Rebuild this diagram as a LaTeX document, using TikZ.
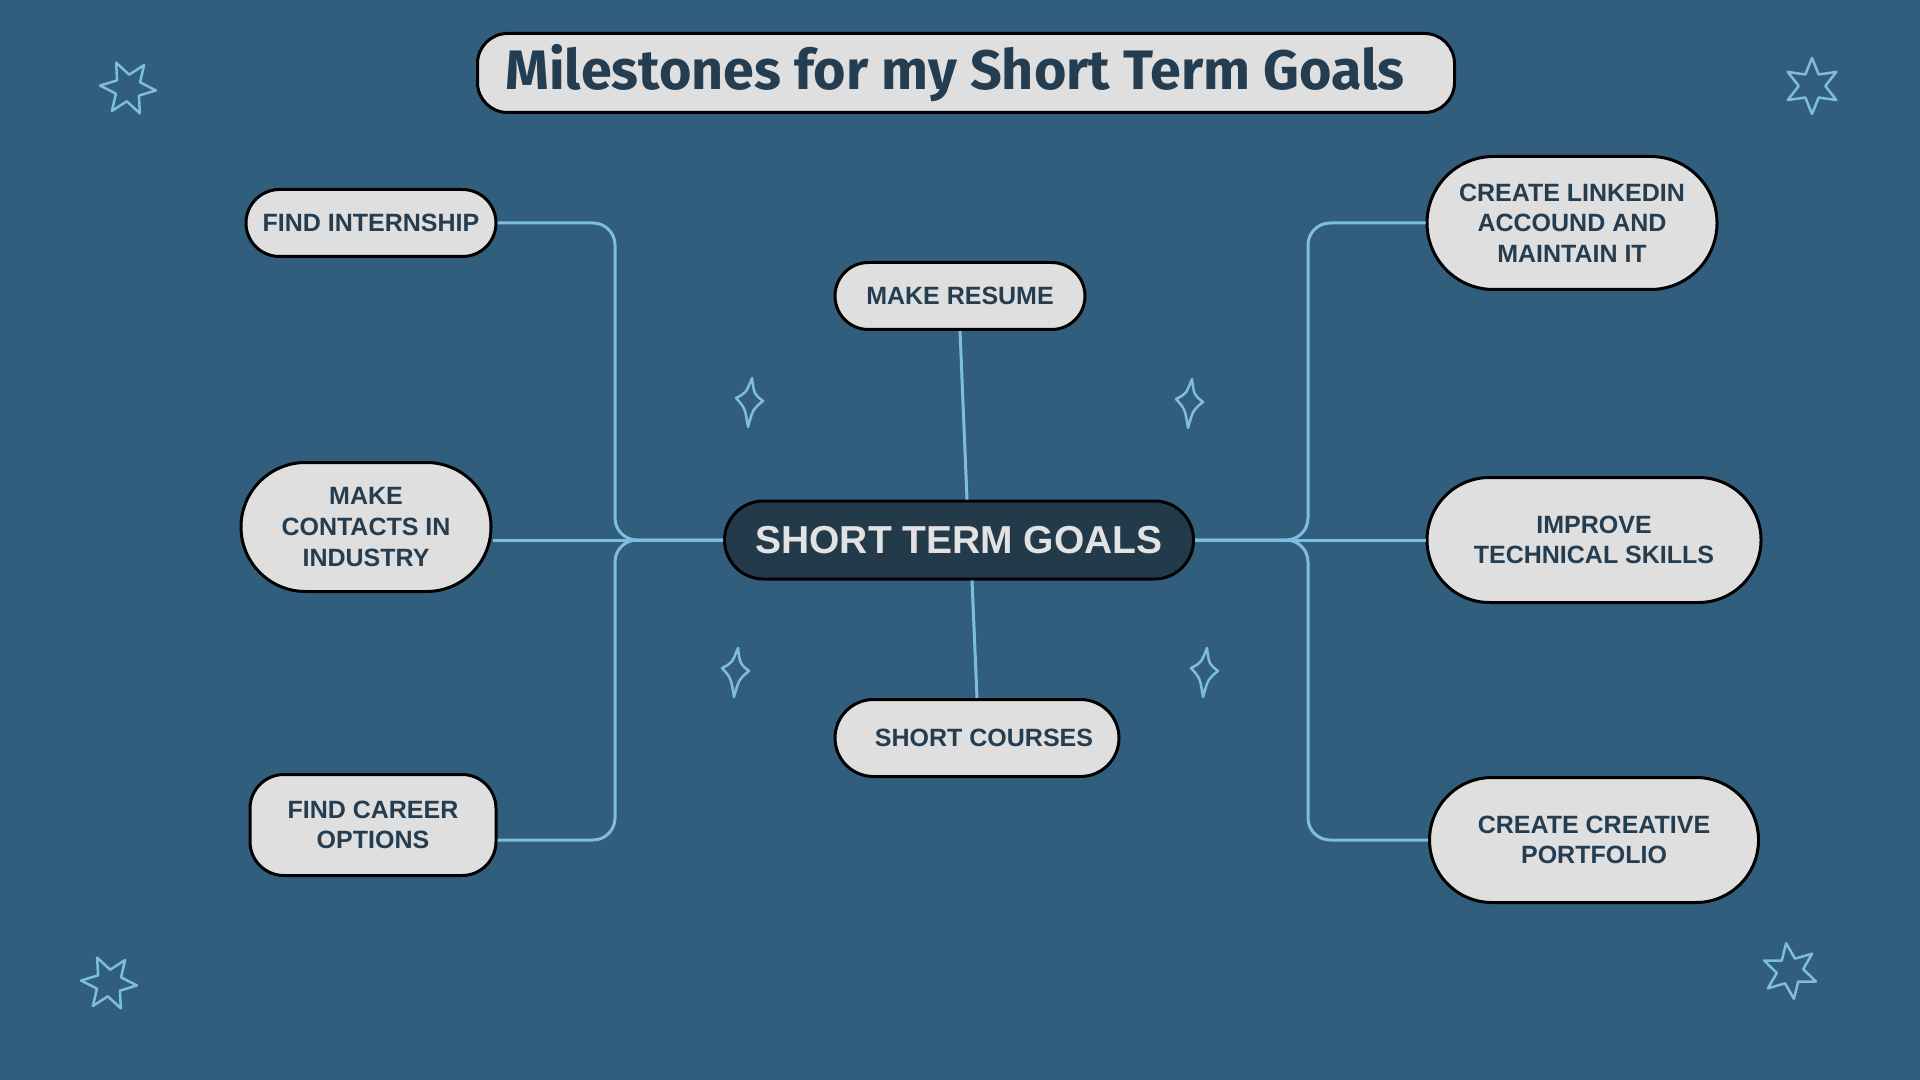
\documentclass[tikz,border=0pt]{standalone}
\usepackage{fontspec}
\setmainfont{Liberation Sans}
\newfontfamily\titlefont{Fira Sans}
\usetikzlibrary{shapes.geometric}

\definecolor{bgblue}{HTML}{315E7D}
\definecolor{boxgrey}{HTML}{DFDFDF}
\definecolor{inkblue}{HTML}{243D51}
\definecolor{hubblue}{HTML}{233A4B}
\definecolor{hubtext}{HTML}{E2E2E2}
\definecolor{linkblue}{HTML}{7DBDE0}

\begin{document}
\begin{tikzpicture}[
            x=0.5pt,
            y=-0.5pt,
            milestone/.style={
                rectangle,
                draw=black,
                line width=1.5pt,
                fill=boxgrey,
                text=inkblue,
                font=\fontsize{12.5}{15.3}\selectfont\bfseries,
                align=center,
                inner sep=0pt
            },
            hub/.style={
                milestone,
                fill=hubblue,
                text=hubtext,
                font=\fontsize{19.5}{22}\selectfont\bfseries
            },
            link/.style={
                draw=linkblue,
                line width=1.5pt,
                rounded corners=11pt
            },
            twinkle/.style={
                draw=linkblue,
                line width=1.25pt,
                line join=round
            }
        ]

            \path[use as bounding box, fill=bgblue] (0,0) rectangle (1920,1080);

            \node[milestone, minimum width=488.5pt, minimum height=39.5pt,
                rounded corners=15pt,
                font=\titlefont\fontsize{27.8}{32}\selectfont\bfseries]
                (title) at (966,73) {Milestones for my Short Term Goals\hspace*{11pt}};

            \node[hub, minimum width=234.5pt, minimum height=39pt,
                rounded corners=19.5pt] (goal) at (959,540) {SHORT TERM GOALS};

            \node[milestone, minimum width=125pt, minimum height=33.5pt,
                rounded corners=16.75pt] (fi) at (371,223) {FIND INTERNSHIP};
            \node[milestone, minimum width=125pt, minimum height=64.5pt,
                rounded corners=32.25pt] (mc) at (366,527) {MAKE\\CONTACTS IN\\INDUSTRY};
            \node[milestone, minimum width=123pt, minimum height=50.5pt,
                rounded corners=17pt] (fc) at (373,825) {FIND CAREER\\OPTIONS};

            \node[milestone, minimum width=125pt, minimum height=33.5pt,
                rounded corners=16.75pt] (mr) at (960,296) {MAKE RESUME};
            \node[milestone, minimum width=142pt, minimum height=38.5pt,
                rounded corners=19.25pt] (sc) at (977,738) {\hspace{7pt}SHORT COURSES};

            \node[milestone, minimum width=145pt, minimum height=66.5pt,
                rounded corners=33.25pt] (li) at (1572,223) {CREATE LINKEDIN\\ACCOUND AND\\MAINTAIN IT};
            \node[milestone, minimum width=167pt, minimum height=62.5pt,
                rounded corners=31.25pt] (it) at (1594,540) {IMPROVE\\TECHNICAL SKILLS};
            \node[milestone, minimum width=164.5pt, minimum height=62.5pt,
                rounded corners=31.25pt] (cp) at (1594,840) {CREATE CREATIVE\\PORTFOLIO};

            \draw[link] (fi.east) -| (615,540) -- (goal.west);
            \draw[link] ([yshift=-6.5pt]mc.east) -- (goal.west);
            \draw[link] ([yshift=-7.5pt]fc.east) -| (615,540) -- (goal.west);

            \draw[link] (goal.east) -- (1308,540) |- (li.west);
            \draw[link] (goal.east) -- (it.west);
            \draw[link] (goal.east) -- (1308,540) |- (cp.west);

            \draw[link] (mr.south) -- ([xshift=4pt]goal.north);
            \draw[link] ([xshift=6.5pt]goal.south) -- (sc.north);

            \node[twinkle, star, star points=6, star point ratio=2.1,
                minimum size=28pt, inner sep=0pt, rotate=25] (star1) at (128,88) {};
            \node[twinkle, star, star points=6, star point ratio=2.1,
                minimum size=28pt, inner sep=0pt, rotate=0] (star2) at (1812,86) {};
            \node[twinkle, star, star points=6, star point ratio=2.1,
                minimum size=28pt, inner sep=0pt, rotate=25] (star3) at (109,983) {};
            \node[twinkle, star, star points=6, star point ratio=2.1,
                minimum size=28pt, inner sep=0pt, rotate=8] (star4) at (1790,971) {};

            \foreach \spot in {(749,401),(1189,402),(735,671),(1204,671)}
                \draw[twinkle, shift={\spot}] (3,-23) .. controls (5,-7) .. (14,0)
                    .. controls (4,8) .. (-1,26) .. controls (-4,7) .. (-13,-3)
                    .. controls (-3,-8) .. (3,-23) -- cycle;

        \end{tikzpicture}
\end{document}
